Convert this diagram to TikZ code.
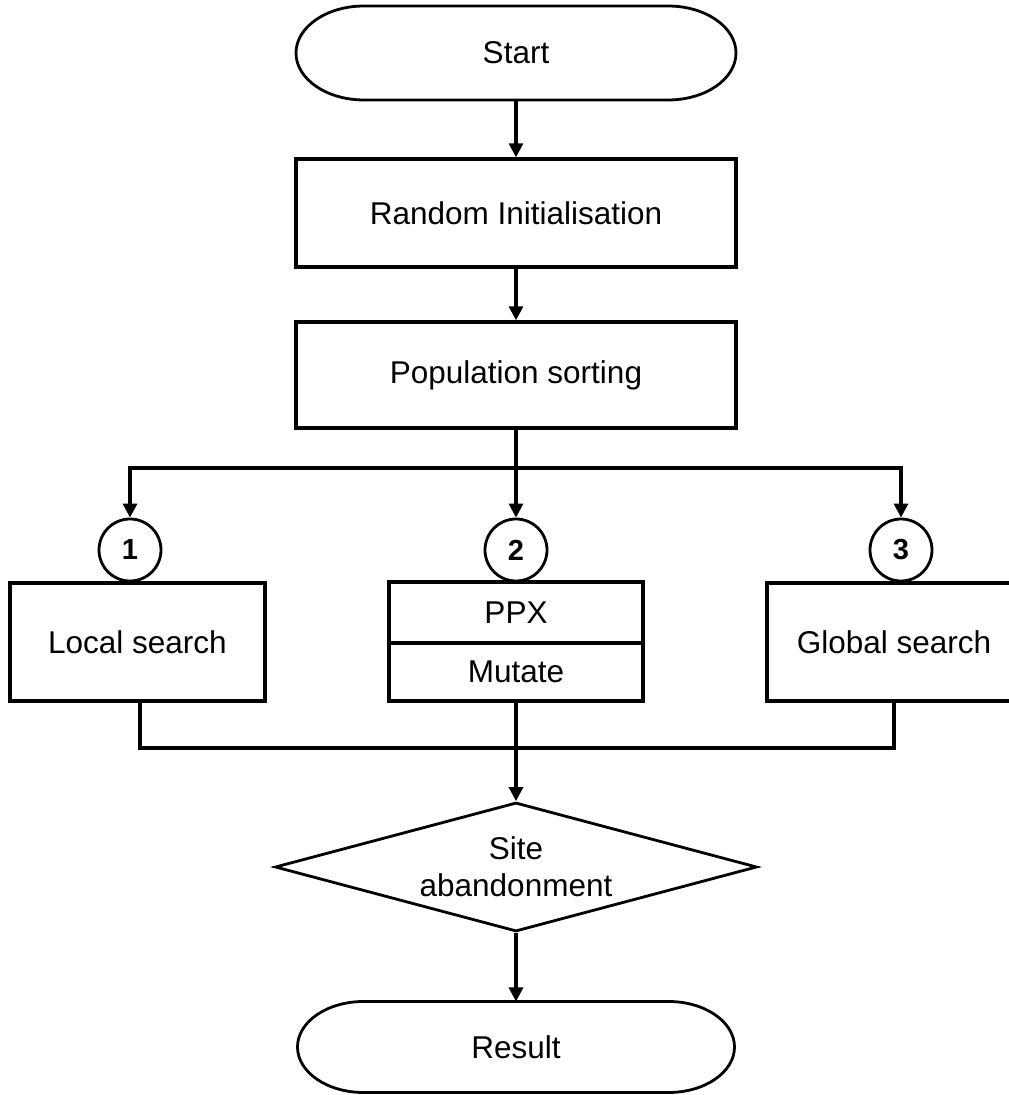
\documentclass[tikz,border=0pt]{standalone}
\usepackage{fontspec}
\setmainfont{Liberation Sans}
\usetikzlibrary{arrows.meta,shapes.geometric,calc}
\begin{document}
\begin{tikzpicture}[x=1pt,y=1pt,
  txt/.style={font=\fontsize{31.5}{37}\selectfont, align=center},
  box/.style={txt, draw, line width=3.4pt, inner sep=0pt},
  term/.style={txt, inner sep=0pt, outer sep=0pt, minimum width=440pt},
  termline/.style={line width=2.8pt},
  num/.style={draw, circle, line width=2.8pt, minimum size=62pt, inner sep=0pt,
              font=\fontsize{29}{30}\selectfont\bfseries},
  dec/.style={txt, draw, diamond, aspect=3.7, line width=2.8pt, inner sep=0pt,
              minimum width=482pt, minimum height=129pt},
  conn/.style={line width=3.2pt},
  arr/.style={conn, -{Triangle[length=14pt,width=14pt]}}
]
\path[use as bounding box] (0,0) rectangle (1009,1095);
\clip (0,0) rectangle (1009,1095);

% nodes
\node[term, minimum height=94pt] (start) at (516,1042) {Start};
\draw[termline] ($(start.north west)+(68pt,0)$) -- ($(start.north east)+(-68pt,0)$)
  arc[start angle=90,end angle=-90,x radius=68pt,y radius=47pt]
  -- ($(start.south west)+(68pt,0)$)
  arc[start angle=270,end angle=90,x radius=68pt,y radius=47pt] -- cycle;

\node[box, minimum width=440pt, minimum height=108pt] (rand) at (516,882) {Random Initialisation};
\node[box, minimum width=440pt, minimum height=106pt] (pop) at (516,720) {Population sorting};

\node[num] (c1) at (130,545) {1};
\node[num] (c2) at (516,545) {2};
\node[num] (c3) at (901,545) {3};

\node[box, minimum width=255pt, minimum height=118pt] (local) at (137.5,453) {Local search};
\node[box, minimum width=254pt, minimum height=61pt] (ppx) at (516,482.5) {PPX};
\node[box, minimum width=254pt, minimum height=58pt] (mutate) at (516,423) {Mutate};
\node[box, minimum width=254pt, minimum height=118pt] (global) at (894,453) {Global search};

\node[dec] (dec) at (516,228) {Site\\abandonment};

\node[term, minimum width=437pt, minimum height=91pt] (result) at (516,48) {Result};
\draw[termline] ($(result.north west)+(66pt,0)$) -- ($(result.north east)+(-66pt,0)$)
  arc[start angle=90,end angle=-90,x radius=66pt,y radius=45.5pt]
  -- ($(result.south west)+(66pt,0)$)
  arc[start angle=270,end angle=90,x radius=66pt,y radius=45.5pt] -- cycle;

% connectors
\coordinate (split) at (516,627);
\coordinate (merge) at (516,347);

\draw[arr] (start.south) -- (rand.north);
\draw[arr] (rand.south) -- (pop.north);
\draw[arr] (pop.south) -- (c2.north);
\draw[arr] (split) -| (c1.north);
\draw[arr] (split) -| (c3.north);

\draw[conn] ([xshift=2.5pt]local.south) |- (merge);
\draw[conn] (global.south) |- (merge);
\draw[arr] (mutate.south) -- (dec.north);
\draw[arr] (dec.south) -- (result.north);
\end{tikzpicture}
\end{document}
